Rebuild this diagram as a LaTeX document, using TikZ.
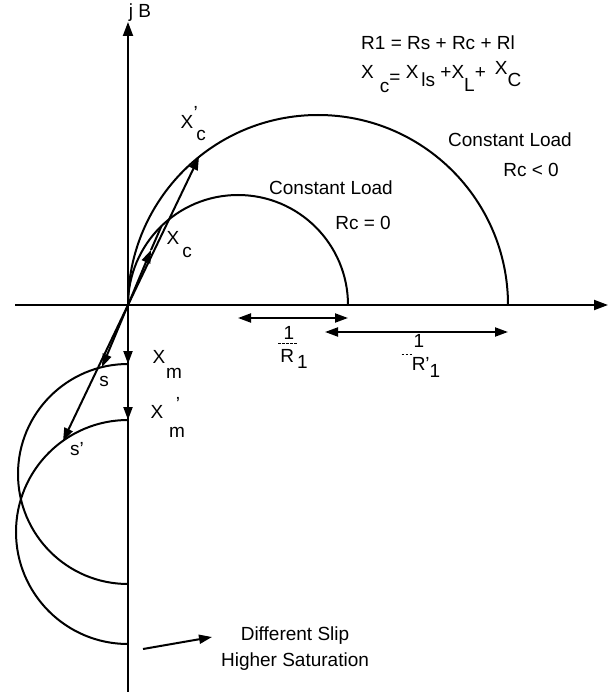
\documentclass[tikz,border=0pt]{standalone}
\usepackage{fontspec}
\setmainfont{Liberation Sans}
\usetikzlibrary{positioning, arrows.meta, calc}

\begin{document}
\begin{tikzpicture}
    [
        x=1pt, y=-1pt,
        curve/.style={line width=2pt},
        axis/.style={line width=2pt, -{Triangle[length=14pt, width=10pt]}},
        vec/.style={line width=2pt, -{Triangle[length=13pt, width=9pt]}},
        span/.style={line width=2pt, {Triangle[length=13pt, width=9pt]}-{Triangle[length=13pt, width=9pt]}},
        lbl/.style={font=\fontsize{19}{21}\selectfont, inner sep=0pt},
        bar/.style={dashed, dash pattern=on 2.5pt off 1.5pt, line width=1.2pt}
    ]
        \useasboundingbox (0,0) rectangle (613,692);
        % =========================================================================
        % POINTS
        % =========================================================================
        \coordinate (O) at (128,305);
        \coordinate (top) at (128,22);
        \coordinate (bot) at (128,692);
        \coordinate (left) at (15,305);
        \coordinate (right) at (608,305);
        \coordinate (Xm) at (128,364);
        \coordinate (Xmp) at (128,420);
        \coordinate (Xc) at (151,250);
        \coordinate (XcEnd) at (161.5,226);
        \coordinate (Xcp) at (199,157);
        \coordinate (s) at (102,367);
        \coordinate (sp) at (63,441);
        \coordinate (r1a) at (238,318);
        \coordinate (r1b) at (348,318);
        \coordinate (r2a) at (325,332);
        \coordinate (r2b) at (508,332);
        \coordinate (slipA) at (143,649);
        \coordinate (slipB) at (212,637);

        % =========================================================================
        % LABELS
        % =========================================================================
        \node [lbl] (jB) at (140,13) {j B};
        \node [lbl, anchor=west] (eqR) at (361,43) {R1 = Rs + Rc + Rl};
        \node [lbl, anchor=base west] (eqX) at (361,79)
            {X\hspace{6pt}\raisebox{-14pt}{c}\raisebox{-5pt}{=} X\hspace{3pt}\raisebox{-8pt}{ls} +X\raisebox{-13pt}{L}+\hspace{9pt}\raisebox{4pt}{X}\raisebox{-8pt}{C}};
        \node [lbl] (load2) at (510,140) {Constant Load};
        \node [lbl] (rc2) at (531,170) {Rc < 0};
        \node [lbl] (load1) at (331,188) {Constant Load};
        \node [lbl] (rc1) at (363,223) {Rc = 0};
        % --- vector labels ---
        \node [lbl] (lXcp) at (187,122) {X};
        \node [lbl, above right=-4pt and 0pt of lXcp] {'};
        \node [lbl] (lXcpSub) at (201,135) {c};
        \node [lbl] (lXc) at (173,238) {X};
        \node [lbl] (lXcSub) at (187,252) {c};
        \node [lbl] (lXm) at (159,357) {X};
        \node [lbl] (lXmSub) at (174,373) {m};
        \node [lbl] (lXmp) at (157,412) {X};
        \node [lbl] (lXmpQ) at (178,404) {'};
        \node [lbl] (lXmpSub) at (177,432) {m};
        \node [lbl] (ls) at (104,381) {s};
        \node [lbl] (lsp) at (77,449) {s'};
        % --- 1/R labels ---
        \node [lbl] (one1) at (289,333) {1};
        \node [lbl] (R1) at (294,359) {R\raisebox{-6pt}{\,1}};
        \node [lbl] (one2) at (419,341) {1};
        \node [lbl] (R2) at (426,367) {R'\raisebox{-7pt}{1}};
        % --- note ---
        \node [lbl] (slip) at (295,636) {Different Slip};
        \node [lbl, below=7pt of slip] (sat) {Higher Saturation};

        % =========================================================================
        % PATHS
        % =========================================================================
        % --- AXES ---
        \draw [axis] (bot) -- (top);
        \draw [axis] (left) -- (right);
        % --- CIRCLES ---
        \draw [curve] (O) arc [start angle=180, end angle=360, radius=110];
        \draw [curve] (O) arc [start angle=180, end angle=360, radius=190];
        \draw [curve] (Xm) arc [start angle=270, end angle=90, radius=110];
        \draw [curve] (Xmp) arc [start angle=270, end angle=90, radius=112];
        % --- VECTORS ---
        \draw [vec] (O) -- (Xm);
        \draw [vec] (Xm) -- (Xmp);
        \draw [vec] (O) -- (Xcp);
        \draw [vec] (O) -- (sp);
        \draw [vec] (O) -- (Xc);
        \draw [curve] (Xc) -- (XcEnd);
        \draw [vec] (O) -- (s);
        % --- SPANS ---
        \draw [span] (r1a) -- (r1b);
        \draw [span] (r2a) -- (r2b);
        \draw [bar] ($(one1.south)+(-11,4)$) -- ++(20,0);
        \draw [bar] ($(R2.north west)+(-10,-2)$) -- ++(12,0);
        \draw [vec] (slipA) -- (slipB);
    \end{tikzpicture}
\end{document}
